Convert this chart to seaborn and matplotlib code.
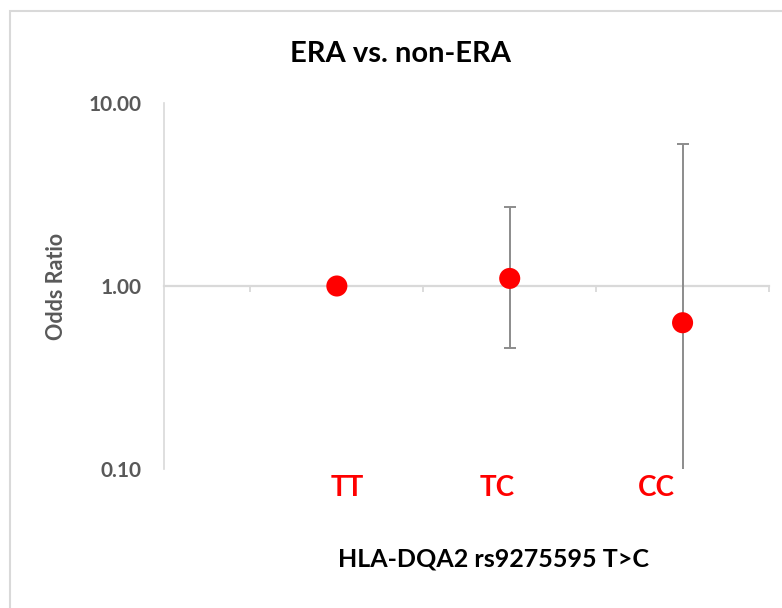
import numpy as np
import pandas as pd
import matplotlib
matplotlib.use("Agg")
import matplotlib.pyplot as plt
from matplotlib.patches import Rectangle
import seaborn as sns

# ---- data ----
genotypes = ["TT", "TC", "CC"]
odds_ratio = [1.00, 1.10, 0.63]
ci_lower = [1.00, 0.46, 0.08]
ci_upper = [1.00, 2.70, 5.95]
y_ticks = [0.1, 1.0, 10.0]
y_tick_labels = ["0.10", "1.00", "10.00"]
title = "ERA vs. non-ERA"
x_title = "HLA-DQA2 rs9275595 T>C"
y_title = "Odds Ratio"

# layout: small shifts of the hand-placed genotype labels (in category units)
label_shift = [0.06, -0.075, -0.15]

sns.set_theme(style="white")
plt.rcParams["font.family"] = ["Lato", "DejaVu Sans"]

df = pd.DataFrame({
    "pos": np.arange(len(genotypes)),
    "genotype": genotypes,
    "or": odds_ratio,
    "lo": ci_lower,
    "hi": ci_upper,
})

fig = plt.figure(figsize=(7.82, 6.08), dpi=100)
W, H = 782, 608
ax = fig.add_axes([164 / W, 1 - 469 / H, (769 - 164) / W, (469 - 103) / H])

# chart frame
fig.add_artist(Rectangle((10 / W, -0.1), 1.2, 1.1 - 11 / H,
                         transform=fig.transFigure, fill=False,
                         edgecolor="#D9D9D9", lw=1.5))

# error bars (only where a CI exists)
has_ci = df["lo"] != df["hi"]
sub = df[has_ci]
ax.errorbar(sub["pos"], sub["or"],
            yerr=[sub["or"] - sub["lo"], sub["hi"] - sub["or"]],
            fmt="none", ecolor="#8C8C8C", elinewidth=1.4, capsize=4.5,
            capthick=1.4, zorder=3)

sns.scatterplot(data=df, x="pos", y="or", ax=ax, color="#FF0000",
                s=230, edgecolor="none", zorder=4, legend=False)

ax.set_yscale("log")
ax.set_ylim(0.1, 10)
ax.set_xlim(-1, len(genotypes) - 0.5)
ax.set_yticks(y_ticks)
ax.set_yticklabels(y_tick_labels)
ax.yaxis.set_minor_locator(matplotlib.ticker.NullLocator())
ax.tick_params(axis="y", length=0, pad=16, labelsize=15,
               labelcolor="#595959")
for lab in ax.get_yticklabels():
    lab.set_fontweight("bold")

# horizontal axis crossing at 1.00
ax.spines["bottom"].set_position(("data", 1.0))
ax.spines["bottom"].set_color("#D9D9D9")
ax.spines["bottom"].set_linewidth(1.6)
ax.spines["left"].set_color("#D9D9D9")
ax.spines["left"].set_linewidth(1.2)
ax.spines["top"].set_visible(False)
ax.spines["right"].set_visible(False)
ax.set_xticks(np.arange(-0.5, len(genotypes), 1.0))
ax.set_xticklabels([])
ax.tick_params(axis="x", direction="out", length=4.5, width=1.3,
               color="#D9D9D9", bottom=True)

ax.set_xlabel("")
ax.set_ylabel(y_title, fontsize=15.5, fontweight="bold", color="#595959")
ax.yaxis.set_label_coords(-0.177, 0.5)
ax.yaxis.label.set_verticalalignment("center")

# genotype labels under the plot
for i, g in enumerate(genotypes):
    ax.text(i + label_shift[i], -0.052, g, transform=ax.get_xaxis_transform(),
            ha="center", va="center", color="#FF0000", fontsize=20,
            fontweight="bold")

fig.text(493 / W, 1 - 559 / H, x_title, ha="center", va="center",
         fontsize=18, fontweight="bold", color="#000000")
fig.text(401 / W, 1 - 54 / H, title, ha="center", va="center",
         fontsize=21, fontweight="bold", color="#000000")

ax.grid(False)
fig.savefig("out.png", dpi=100, facecolor="white")
